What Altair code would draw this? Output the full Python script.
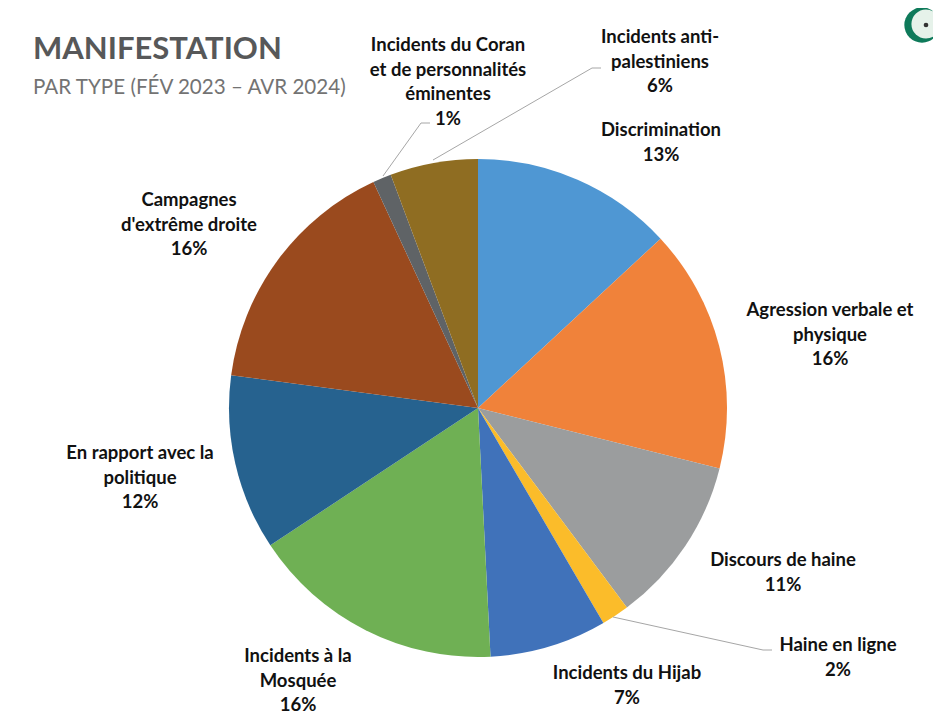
import altair as alt
import pandas as pd

# ---- data ----
categories = [
    "Discrimination",
    "Agression verbale et\nphysique",
    "Discours de haine",
    "Haine en ligne",
    "Incidents du Hijab",
    "Incidents à la\nMosquée",
    "En rapport avec la\npolitique",
    "Campagnes\nd'extrême droite",
    "Incidents du Coran\net de personnalités\néminentes",
    "Incidents anti-\npalestiniens",
]
values = [13.1, 15.8, 10.9, 1.8, 7.6, 16.5, 11.4, 16.0, 1.2, 5.7]
pct_labels = ["13%", "16%", "11%", "2%", "7%", "16%", "12%", "16%", "1%", "6%"]

# ---- styling / layout ----
colors = ["#4F97D3", "#F0823A", "#9B9D9E", "#FBBC2A", "#4072BA",
          "#6FB054", "#26628F", "#9A4A1E", "#5F6366", "#8F6D22"]
# label anchor (centre x, first-line baseline y) in chart pixels
label_pos = [(653, 128), (822, 308), (775, 558), (830, 643), (619, 671),
             (290, 654), (132, 451), (181, 198), (440, 43), (652, 35)]
# leader-line segments (x, y, x2, y2) in chart pixels
leaders = [(375, 168, 413, 115), (413, 115, 422, 115),
           (425, 152, 584, 60), (584, 60, 593, 60),
           (605, 609, 755, 642), (755, 642, 764, 642)]

CX, CY, R = 470, 400, 249
W, H = 925, 706
FONT = "Lato"
FS = 18.5
LH = 24.5

pie_df = pd.DataFrame({
    "cat": [c.replace("\n", " ") for c in categories],
    "value": values,
    "idx": list(range(len(values))),
})

lab_df = pd.DataFrame({
    "text": [c + "\n" + p for c, p in zip(categories, pct_labels)],
    "x": [p[0] for p in label_pos],
    "y": [p[1] for p in label_pos],
})

lead_df = pd.DataFrame(leaders, columns=["x", "y", "x2", "y2"])

one = pd.DataFrame({"a": [0]})

pie = alt.Chart(pie_df).mark_arc(radius=R, stroke=None).encode(
    theta=alt.Theta("value:Q", stack=True),
    order=alt.Order("idx:Q"),
    color=alt.Color("cat:N", scale=alt.Scale(domain=pie_df["cat"].tolist(), range=colors), legend=None),
    x=alt.value(CX), y=alt.value(CY),
)

lines = alt.Chart(lead_df).mark_rule(color="#A6A6A6", strokeWidth=1).encode(
    x=alt.X("x:Q", scale=None), y=alt.Y("y:Q", scale=None),
    x2="x2:Q", y2="y2:Q",
)

labels = alt.Chart(lab_df).mark_text(
    font=FONT, fontSize=FS, fontWeight="bold", color="#111111",
    align="center", baseline="alphabetic", lineBreak="\n", lineHeight=LH,
).encode(
    x=alt.X("x:Q", scale=None), y=alt.Y("y:Q", scale=None), text="text:N",
)

title = alt.Chart(one).mark_text(
    font=FONT, fontSize=31, fontWeight="bold", color="#575859",
    align="left", baseline="alphabetic",
).encode(x=alt.value(25), y=alt.value(51), text=alt.value("MANIFESTATION"))

subtitle = alt.Chart(one).mark_text(
    font=FONT, fontSize=20.6, color="#737373",
    align="left", baseline="alphabetic",
).encode(x=alt.value(25), y=alt.value(86), text=alt.value("PAR TYPE (FÉV 2023 – AVR 2024)"))

# logo (top right)
logo_ring = alt.Chart(one).mark_point(filled=True, shape="circle", color="#0E7A5A", opacity=1).encode(
    x=alt.value(914), y=alt.value(17), size=alt.value(1250))
logo_globe = alt.Chart(one).mark_point(filled=True, shape="circle", color="#E6F2EA", opacity=1).encode(
    x=alt.value(918), y=alt.value(16), size=alt.value(850))
logo_dot = alt.Chart(one).mark_point(filled=True, shape="circle", color="#333333", opacity=1).encode(
    x=alt.value(918), y=alt.value(17), size=alt.value(22))

chart = alt.layer(pie, lines, labels, title, subtitle, logo_ring, logo_globe, logo_dot).properties(
    width=W, height=H, padding=0, autosize=alt.AutoSizeParams(type="none"),
    background="white",
).configure_view(stroke=None)

chart.save("out.html", embed_options={"renderer": "svg", "actions": False})
